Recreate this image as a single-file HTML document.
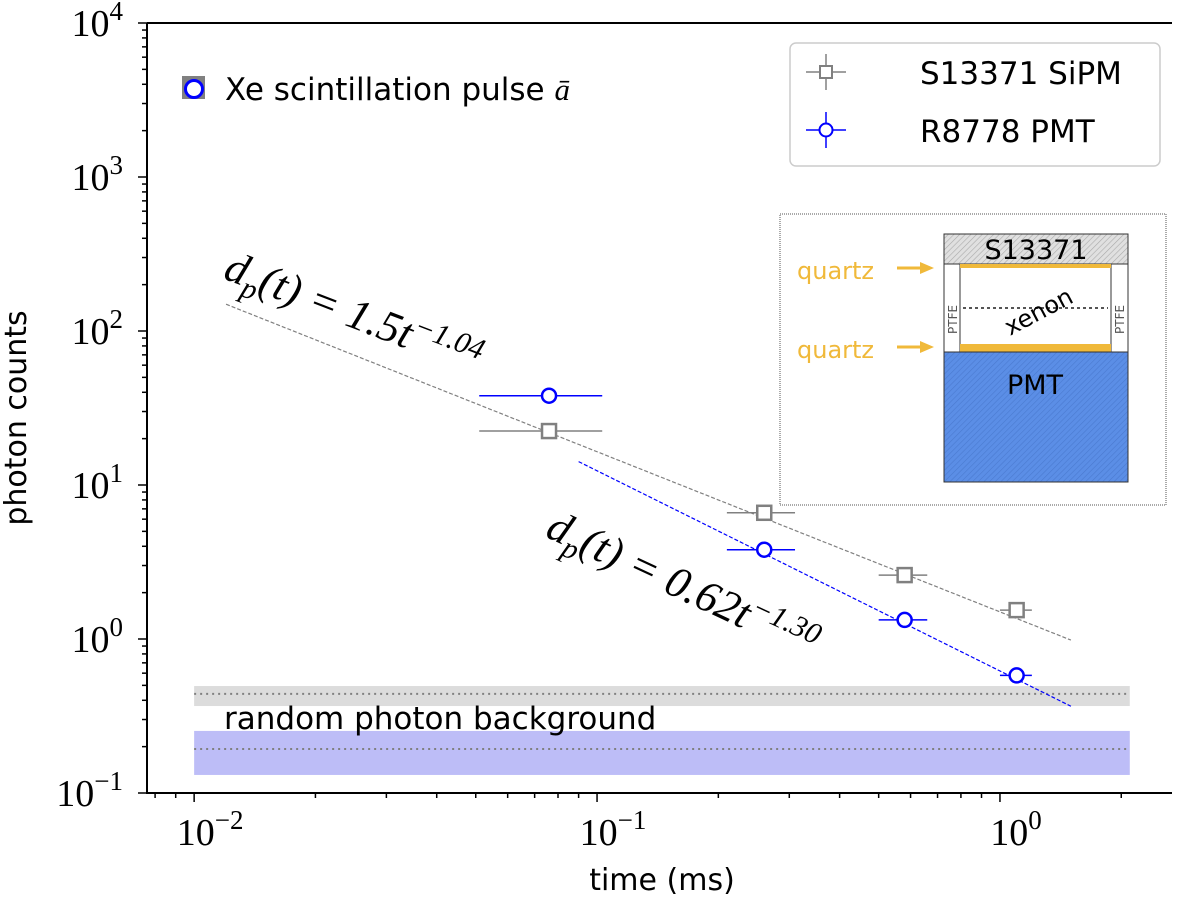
<!DOCTYPE html>
<html><head><meta charset="utf-8"><style>
body{margin:0;background:#fff}
svg text{font-family:"DejaVu Sans","Liberation Sans",sans-serif}
svg text.serif{font-family:"DejaVu Serif","Liberation Serif",serif}
svg text.lserif{font-family:"Liberation Serif","DejaVu Serif",serif}
</style></head><body>
<svg id="chart" width="1200" height="900" viewBox="0 0 1200 900">
<defs>
<pattern id="hatchG" width="4" height="4" patternUnits="userSpaceOnUse" patternTransform="rotate(45)"><rect width="4" height="4" fill="#e0e0e0"/><line x1="0" y1="0" x2="0" y2="4" stroke="#aaa" stroke-width="1.2"/></pattern>
<pattern id="hatchB" width="4" height="4" patternUnits="userSpaceOnUse" patternTransform="rotate(45)"><rect width="4" height="4" fill="#5b8ee6"/><line x1="0" y1="0" x2="0" y2="4" stroke="#4a7ad0" stroke-width="1.2"/></pattern>
</defs>
<g id="bands"></g>
<g id="marks"></g>
<g id="axes"></g>
<g>
<rect x="780" y="214" width="386" height="291" fill="#fff" stroke="#555" stroke-width="1" stroke-dasharray="1,1"/>
<rect x="944" y="234" width="184" height="30" fill="url(#hatchG)" stroke="#333"/>
<text x="1036" y="259" font-size="27" text-anchor="middle">S13371</text>
<rect x="944" y="264" width="16" height="89" fill="#fff" stroke="#333"/>
<rect x="1111" y="264" width="17" height="89" fill="#fff" stroke="#333"/>
<text transform="translate(957,334) rotate(-90)" font-size="12" fill="#555">PTFE</text>
<text transform="translate(1124,334) rotate(-90)" font-size="12" fill="#555">PTFE</text>
<rect x="960" y="264" width="151" height="4" fill="#f0b93a"/>
<rect x="960" y="344" width="151" height="8" fill="#f0b93a"/>
<line x1="963" y1="308" x2="1108" y2="308" stroke="#555" stroke-width="2" stroke-dasharray="3,3"/>
<text transform="translate(1010,336) rotate(-28)" font-size="24">xenon</text>
<rect x="944" y="352" width="184" height="130" fill="url(#hatchB)" stroke="#333"/>
<text x="1035" y="394" font-size="27" text-anchor="middle">PMT</text>
<text x="797" y="279" font-size="24" fill="#f0b93a">quartz</text>
<text x="797" y="358" font-size="24" fill="#f0b93a">quartz</text>
<line x1="897" y1="268" x2="922" y2="268" stroke="#f0b93a" stroke-width="3"/><polygon points="920,262 934,268 920,274" fill="#f0b93a"/>
<line x1="897" y1="347" x2="922" y2="347" stroke="#f0b93a" stroke-width="3"/><polygon points="920,341 934,347 920,353" fill="#f0b93a"/>
</g>
<g>
<rect x="790" y="43" width="370" height="123" rx="6" fill="#fff" stroke="#ccc" stroke-width="1.5"/>
<g>
<line x1="806" y1="72" x2="846" y2="72" stroke="#808080" stroke-width="1.5"/><line x1="826" y1="54" x2="826" y2="90" stroke="#808080" stroke-width="1.5"/>
<rect x="820" y="66" width="12" height="12" fill="#fff" stroke="#808080" stroke-width="2"/>
<text x="920" y="84" font-size="31">S13371 SiPM</text></g>
<g>
<line x1="806" y1="130" x2="846" y2="130" stroke="#0000ff" stroke-width="1.5"/><line x1="826" y1="112" x2="826" y2="148" stroke="#0000ff" stroke-width="1.5"/>
<circle cx="826" cy="130" r="6.5" fill="#fff" stroke="#0000ff" stroke-width="2"/>
<text x="920" y="142" font-size="31">R8778 PMT</text></g>
</g>
<g>
<rect x="182" y="76" width="23" height="23" fill="#808080"/>
<circle cx="194" cy="89" r="8.5" fill="#fff" stroke="#0000ff" stroke-width="3"/>
<text x="225" y="100" font-size="31">Xe scintillation pulse <tspan class="lserif" font-style="italic" font-family="Liberation Serif">ā</tspan></text>
</g>
<text x="224" y="729" font-size="31">random photon background</text>
<text class="lserif" font-style="italic" font-size="44" transform="translate(222,278) rotate(21)">d<tspan font-size="30" dy="10">p</tspan><tspan dy="-10">(t) = 1.5t</tspan><tspan font-size="30" dy="-16">−1.04</tspan></text>
<text class="lserif" font-style="italic" font-size="44" transform="translate(544,536) rotate(25)">d<tspan font-size="30" dy="10">p</tspan><tspan dy="-10">(t) = 0.62t</tspan><tspan font-size="30" dy="-16">−1.30</tspan></text>
<text x="662" y="890" font-size="30" text-anchor="middle">time (ms)</text>
<text transform="translate(26,418) rotate(-90)" font-size="30" text-anchor="middle">photon counts</text>
</svg>
<script>
const sipmT=[0.076,0.26,0.58,1.1];
const sipmY=[22.4,6.6,2.6,1.54];
const sipmTlo=[0.051,0.21,0.5,1.0];
const sipmThi=[0.103,0.31,0.66,1.2];
const pmtT=[0.076,0.26,0.58,1.1];
const pmtY=[38,3.8,1.33,0.58];
const pmtTlo=[0.051,0.21,0.5,1.0];
const pmtThi=[0.103,0.31,0.66,1.2];
const fitSipm=[1.5,-1.04,0.012,1.5];
const fitPmt=[0.62,-1.30,0.09,1.5];
const bgSipm=[0.367,0.495,0.44];
const bgPmt=[0.131,0.253,0.193];
const bgRange=[0.01,2.1];
const xTickExp=[-2,-1,0];
const yTickExp=[-1,0,1,2,3,4];

const X0=147,X1=1172,Y0=793,Y1=23;
const xmin=-2.117,xmax=0.427,ymin=-1,ymax=4;
const sx=v=>X0+(Math.log10(v)-xmin)/(xmax-xmin)*(X1-X0);
const sy=v=>Y0-(Math.log10(v)-ymin)/(ymax-ymin)*(Y0-Y1);
const NS='http://www.w3.org/2000/svg';
function mk(tag,attrs,parent){const e=document.createElementNS(NS,tag);for(const k in attrs)e.setAttribute(k,attrs[k]);parent.appendChild(e);return e;}
const bands=document.getElementById('bands'),marks=document.getElementById('marks'),axes=document.getElementById('axes');
[[bgSipm,'#dcdcdc'],[bgPmt,'#bdbdf7']].forEach(([b,c],i)=>{
 const r=mk('rect',{x:sx(bgRange[0]),y:sy(b[1]),width:sx(bgRange[1])-sx(bgRange[0]),height:sy(b[0])-sy(b[1]),fill:c},bands);
 
 
 const l=mk('line',{x1:sx(bgRange[0]),x2:sx(bgRange[1]),y1:sy(b[2]),y2:sy(b[2]),stroke:'#808080','stroke-width':2,'stroke-dasharray':'2,4'},bands);
 
 
});
[[fitSipm,'#808080'],[fitPmt,'#0000ff']].forEach(([f,c],i)=>{
 const l=mk('line',{x1:sx(f[2]),y1:sy(f[0]*Math.pow(f[2],f[1])),x2:sx(f[3]),y2:sy(f[0]*Math.pow(f[3],f[1])),stroke:c,'stroke-width':1.2,'stroke-dasharray':'4,2'},marks);
 
 
});
sipmT.forEach((t,i)=>{
 const y=sy(sipmY[i]);
 mk('line',{x1:sx(sipmTlo[i]),x2:sx(sipmThi[i]),y1:y,y2:y,stroke:'#808080','stroke-width':1.5},marks);
 const r=mk('rect',{x:sx(t)-7,y:y-7,width:14,height:14,fill:'#fff',stroke:'#808080','stroke-width':2.5},marks);
 
 
});
pmtT.forEach((t,i)=>{
 const y=sy(pmtY[i]);
 mk('line',{x1:sx(pmtTlo[i]),x2:sx(pmtThi[i]),y1:y,y2:y,stroke:'#0000ff','stroke-width':1.5},marks);
 const c=mk('circle',{cx:sx(t),cy:y,r:7,fill:'#fff',stroke:'#0000ff','stroke-width':2.5},marks);
 
 
});
mk('polyline',{points:`${X0},${Y1} ${X0},${Y0} ${X1},${Y0}`,fill:'none',stroke:'#000','stroke-width':2},axes);
mk('line',{x1:X0,x2:X1,y1:Y1,y2:Y1,stroke:'#000','stroke-width':2},axes);
for(let e=-3;e<=1;e++)for(let m=1;m<10;m++){const v=m*Math.pow(10,e),x=sx(v);if(x<X0-0.5||x>X1)continue;
 mk('line',{x1:x,x2:x,y1:Y0,y2:Y0+(m==1?9:5),stroke:'#000','stroke-width':1.5},axes);}
for(let e=-1;e<=4;e++)for(let m=1;m<10;m++){const v=m*Math.pow(10,e),y=sy(v);if(y<Y1-0.5||y>Y0+0.5)continue;
 mk('line',{x1:X0,x2:X0-(m==1?9:5),y1:y,y2:y,stroke:'#000','stroke-width':1.5},axes);}
xTickExp.forEach(e=>{const t=mk('text',{x:sx(Math.pow(10,e))+16,y:Y0+52,'font-size':38,'text-anchor':'middle',class:'lserif'},axes);
 
 
 t.innerHTML=`10<tspan font-size="27" dy="-16">${e<0?'−'+(-e):e}</tspan>`;});
yTickExp.forEach(e=>{const t=mk('text',{x:X0-24,y:sy(Math.pow(10,e))+13,'font-size':38,'text-anchor':'end',class:'lserif'},axes);
 
 
 t.innerHTML=`10<tspan font-size="27" dy="-16">${e<0?'−'+(-e):e}</tspan>`;});
</script>
</body></html>
